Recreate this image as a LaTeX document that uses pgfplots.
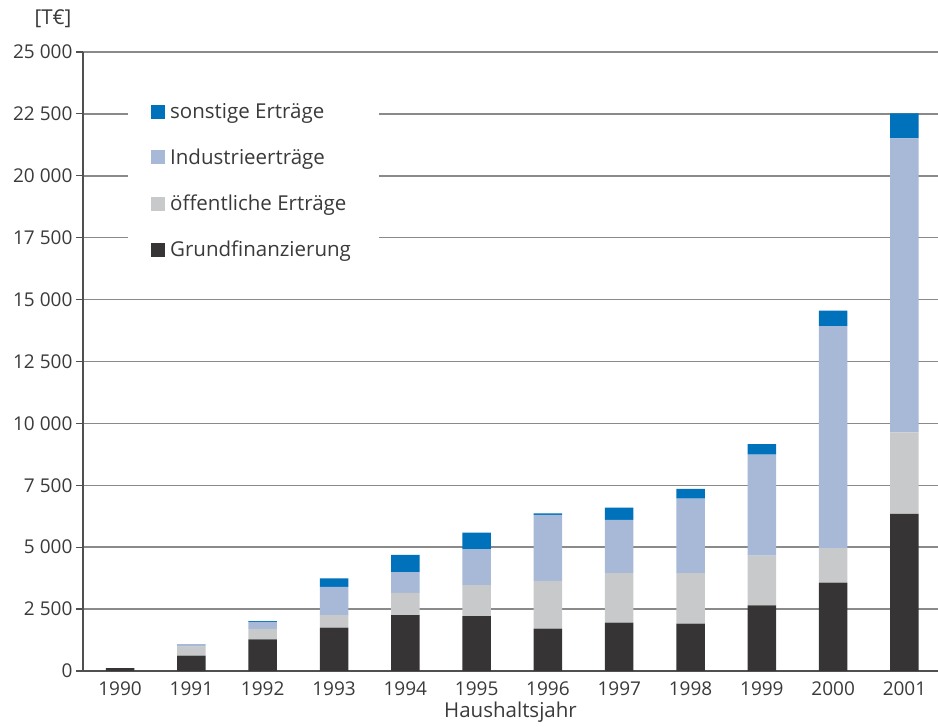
\documentclass[border=0pt]{standalone}
\usepackage{pgfplots}
\pgfplotsset{compat=1.18}
\usepackage{fontspec}
\setmainfont{Open Sans}

\definecolor{sonst}{HTML}{0072BC}
\definecolor{indu}{HTML}{A8B9D7}
\definecolor{oeff}{HTML}{C8C9CB}
\definecolor{grund}{HTML}{363435}
\definecolor{gridc}{HTML}{8A8A8A}
\definecolor{axisc}{HTML}{505050}
\definecolor{txt}{HTML}{3A3A3A}

% Haushaltsjahr index, Grundfinanzierung, oeffentliche, Industrie, sonstige [T EUR]
\begin{document}
\begin{tikzpicture}[font=\fontsize{20.5}{24}\selectfont, text=txt]
\useasboundingbox (-83pt,-56pt) rectangle (855pt,671pt);
\begin{axis}[
  scale only axis,
  width=855pt, height=619pt,
  xmin=-0.52, xmax=11.47,
  ymin=0, ymax=25000,
  ybar stacked,
  bar width=28.5pt,
  axis x line=bottom, axis y line=left,
  axis line style={-, axisc, line width=1.5pt},
  xtick={0,...,11},
  xticklabels={1990,1991,1992,1993,1994,1995,1996,1997,1998,1999,2000,2001},
  xtick style={draw=none},
  ticklabel style={font=\fontsize{19}{22}\selectfont},
  xticklabel style={yshift=-0.5pt},
  ytick={0,2500,...,25000},
  scaled ticks=false,
  ytick style={axisc, line width=1.2pt},
  tick align=outside,
  major tick length=7pt,
  /pgf/number format/fixed,
  /pgf/number format/precision=0,
  /pgf/number format/1000 sep={\hspace{0.27em}},
  /pgf/number format/assume math mode=true,
  ymajorgrids,
  grid style={gridc, line width=1.5pt},
  xlabel={Haushaltsjahr},
  xlabel style={yshift=1pt},
  legend cell align=left,
  reverse legend,
  legend style={at={(0.0526,0.94)}, anchor=north west, draw=none, fill=white,
    row sep=25pt, inner xsep=23pt, inner ysep=12pt,
    nodes={inner xsep=5pt}},
  legend image code/.code={\fill[#1] (0pt,-7pt) rectangle (14pt,7pt);},
]
\addplot[fill=grund, draw=none] coordinates {
 (0,120) (1,620) (2,1280) (3,1750) (4,2260) (5,2220) (6,1710) (7,1950) (8,1910) (9,2650) (10,3570) (11,6350)};
\addplot[fill=oeff, draw=none] coordinates {
 (0,0) (1,360) (2,420) (3,510) (4,900) (5,1250) (6,1930) (7,2000) (8,2040) (9,2010) (10,1390) (11,3290)};
\addplot[fill=indu, draw=none] coordinates {
 (0,0) (1,110) (2,280) (3,1140) (4,830) (5,1450) (6,2670) (7,2150) (8,3010) (9,4080) (10,8970) (11,11870)};
\addplot[fill=sonst, draw=none] coordinates {
 (0,0) (1,0) (2,30) (3,340) (4,700) (5,670) (6,60) (7,500) (8,400) (9,420) (10,620) (11,1010)};
\legend{Grundfinanzierung, öffentliche Erträge, Industrieerträge, sonstige Erträge}
\end{axis}
\node[anchor=west] at (-52pt,652pt) {[T€]};
\end{tikzpicture}
\end{document}
